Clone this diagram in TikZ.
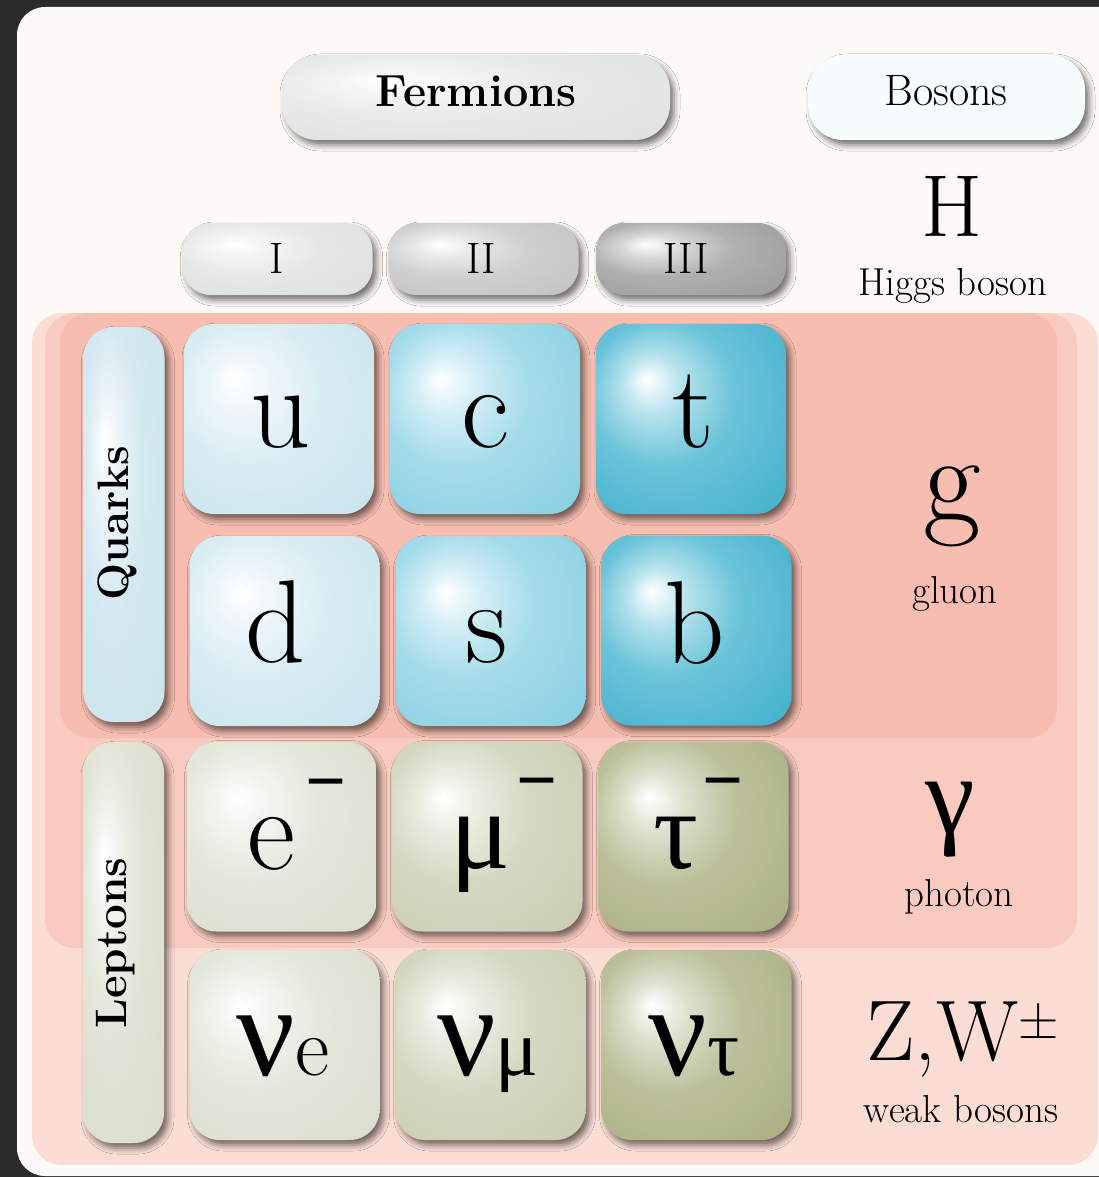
\documentclass[tikz,border=0pt]{standalone}
\usepackage{fontspec}
\newfontfamily\grk{Liberation Serif}
\usetikzlibrary{shadows.blur}
\newcommand\fsz[1]{\fontsize{#1}{#1}\selectfont}
\definecolor{bgdark}{HTML}{2B2B2B}
\definecolor{panelcol}{HTML}{FDF9F6}
\definecolor{weakpink}{HTML}{FBDDD5}
\definecolor{photonpink}{HTML}{F9CBC0}
\definecolor{gluonpink}{HTML}{F6BDB0}
\definecolor{bosonbox}{HTML}{F7FDFD}
\definecolor{qOneA}{HTML}{DAEDF4}\definecolor{qOneB}{HTML}{BDDDE9}
\definecolor{qTwoA}{HTML}{A6DCEA}\definecolor{qTwoB}{HTML}{72C7DD}
\definecolor{qThreeA}{HTML}{6BC4D9}\definecolor{qThreeB}{HTML}{27A3C2}
\definecolor{lOneA}{HTML}{E4E7DB}\definecolor{lOneB}{HTML}{D3D8C3}
\definecolor{lTwoA}{HTML}{D5D9C3}\definecolor{lTwoB}{HTML}{BFC5A5}
\definecolor{lThreeA}{HTML}{BCC19C}\definecolor{lThreeB}{HTML}{9DA36E}
\definecolor{qLblA}{HTML}{D4E8F0}\definecolor{qLblB}{HTML}{C7E2EC}
\definecolor{lLblA}{HTML}{E1E4D6}\definecolor{lLblB}{HTML}{D5D9C5}
\definecolor{gOneA}{HTML}{E6E7E7}\definecolor{gOneB}{HTML}{D8DADA}
\definecolor{gTwoA}{HTML}{D0D0D0}\definecolor{gTwoB}{HTML}{B8B8B8}
\definecolor{gThreeA}{HTML}{B0B0B0}\definecolor{gThreeB}{HTML}{8A8C8B}
\definecolor{fermA}{HTML}{E8E9E9}\definecolor{fermB}{HTML}{D9DBDB}
\newcommand\mkshade[3]{\pgfdeclareradialshading{#1}{\pgfpoint{-12bp}{10.5bp}}{color(0bp)=(white); color(8bp)=(white!50!#2); color(19bp)=(#2); color(53bp)=(#3)}}
\mkshade{qOne}{qOneA}{qOneB}
\mkshade{qTwo}{qTwoA}{qTwoB}
\mkshade{qThree}{qThreeA}{qThreeB}
\mkshade{lOne}{lOneA}{lOneB}
\mkshade{lTwo}{lTwoA}{lTwoB}
\mkshade{lThree}{lThreeA}{lThreeB}
\mkshade{qLbl}{qLblA}{qLblB}
\mkshade{lLbl}{lLblA}{lLblB}
\mkshade{gOne}{gOneA}{gOneB}
\mkshade{gTwo}{gTwoA}{gTwoB}
\mkshade{gThree}{gThreeA}{gThreeB}
\mkshade{ferm}{fermA}{fermB}
\tikzset{
  pill/.style={inner sep=0pt, outer sep=0pt, blur shadow={shadow xshift=4pt, shadow yshift=-5pt, shadow blur radius=6pt, shadow opacity=55}},
  ptile/.style={pill, rounded corners=30pt, minimum width=190pt, minimum height=190pt},
  gen/.style={pill, rounded corners=28pt, minimum width=190pt, minimum height=72pt},
  side/.style={pill, rounded corners=30pt, minimum width=81pt},
  region/.style={inner sep=0pt, outer sep=0pt, rounded corners=30pt},
  lbl/.style={inner sep=0pt, anchor=base, text=black},
}
\begin{document}
\begin{tikzpicture}[x=1pt,y=-1pt]
\useasboundingbox (0,0) rectangle (1099,1177);
\fill[bgdark] (0,0) rectangle (1099,1177);
\node[region, rounded corners=28pt, fill=panelcol, minimum width=1113pt, minimum height=1169pt] (panel) at (573.5,591.5) {};
% boson regions
\node[region, fill=weakpink, minimum width=1066pt, minimum height=852pt] (weakreg) at (565,739) {};
\node[region, fill=photonpink, minimum width=1032pt, minimum height=635pt] (photreg) at (561,630.5) {};
\node[region, fill=gluonpink, minimum width=997pt, minimum height=425pt] (gluonreg) at (558.5,525.5) {};
% header buttons
\node[pill, rounded corners=35pt, shading=ferm, minimum width=388pt, minimum height=85pt] (ferm) at (476,97.5) {};
\node[pill, rounded corners=35pt, fill=bosonbox, minimum width=277pt, minimum height=85pt] (bos) at (946.5,97.5) {};
\node[gen, shading=gOne] (genI) at (277.5,259) {};
\node[gen, shading=gTwo] (genII) at (483.5,259) {};
\node[gen, shading=gThree] (genIII) at (691,259) {};
% side labels
\node[side, shading=qLbl, minimum height=395pt] (quarks) at (124,524.5) {};
\node[side, shading=lLbl, minimum height=401pt] (leptons) at (123.5,942.5) {};
% particle tiles
\node[ptile, shading=qOne] (u) at (279,419) {};
\node[ptile, shading=qTwo] (c) at (485,419) {};
\node[ptile, shading=qThree] (t) at (691,419) {};
\node[ptile, shading=qOne] (d) at (284.5,631) {};
\node[ptile, shading=qTwo] (s) at (490.5,631) {};
\node[ptile, shading=qThree] (b) at (696.5,630.5) {};
\node[ptile, shading=lOne] (e) at (281.5,836.5) {};
\node[ptile, shading=lTwo] (mu) at (487.5,836.5) {};
\node[ptile, shading=lThree] (tau) at (693.5,836.5) {};
\node[ptile, shading=lOne] (nue) at (284.5,1045) {};
\node[ptile, shading=lTwo] (numu) at (490.5,1045) {};
\node[ptile, shading=lThree] (nutau) at (696.5,1045) {};
% texts
\node[lbl, font=\bfseries\fsz{45}] (fermT) at (476,107) {Fermions};
\node[lbl, font=\fsz{44}] (bosT) at (946,106) {Bosons};
\node[lbl, font=\fsz{44}] (gIT) at (277,273) {I};
\node[lbl, font=\fsz{44}] (gIIT) at (481,273) {II};
\node[lbl, font=\fsz{44}] (gIIIT) at (686,273) {III};
\node[lbl, font=\fsz{88}] (hT) at (952,236) {H};
\node[lbl, font=\fsz{39}] (higgsT) at (953,295) {Higgs boson};
\node[inner sep=0pt, rotate=90, font=\bfseries\fsz{44}] (quarksT) at (117,523) {Quarks};
\node[inner sep=0pt, rotate=90, font=\bfseries\fsz{44}] (leptonsT) at (116,943) {Leptons};
\node[lbl, font=\fsz{118}] (uT) at (281,447) {u};
\node[lbl, font=\fsz{118}] (cT) at (485,447) {c};
\node[lbl, font=\fsz{118}] (tT) at (693,447) {t};
\node[lbl, font=\fsz{118}] (dT) at (276,662) {d};
\node[lbl, font=\fsz{118}] (sT) at (487,662) {s};
\node[lbl, font=\fsz{118}] (bT) at (695,663) {b};
\node[lbl, anchor=base west] (eT) at (247,869) {\fsz{118}e\hspace{10pt}\raisebox{64pt}{\grk\bfseries\fsz{72}−}};
\node[lbl, anchor=base west] (muT) at (450,868) {\grk\fsz{112}μ\hspace{6pt}\raisebox{64pt}{\bfseries\fsz{72}−}};
\node[lbl, anchor=base west] (tauT) at (653,868) {\grk\fsz{112}τ\hspace{4pt}\raisebox{64pt}{\bfseries\fsz{72}−}};
\node[lbl] (nueT) at (283,1075) {\grk\fsz{130}ν\rmfamily\fsz{84}e};
\node[lbl] (numuT) at (488,1075) {\grk\fsz{130}ν\fsz{80}μ};
\node[lbl] (nutauT) at (694,1075) {\grk\fsz{130}ν\fsz{80}τ};
\node[lbl, font=\fsz{125}] (gT) at (952,521) {g};
\node[lbl, font=\fsz{39}] (gluonT) at (955,603) {gluon};
\node[lbl, font=\grk\fsz{112}] (gammaT) at (950,833) {γ};
\node[lbl, font=\fsz{39}] (photonT) at (959,906) {photon};
\node[lbl, anchor=base west] (zwT) at (866,1060) {\fsz{86}Z,W\raisebox{22pt}{\fsz{56}±}};
\node[lbl, font=\fsz{39}] (weakT) at (961,1122) {weak bosons};
\end{tikzpicture}
\end{document}
